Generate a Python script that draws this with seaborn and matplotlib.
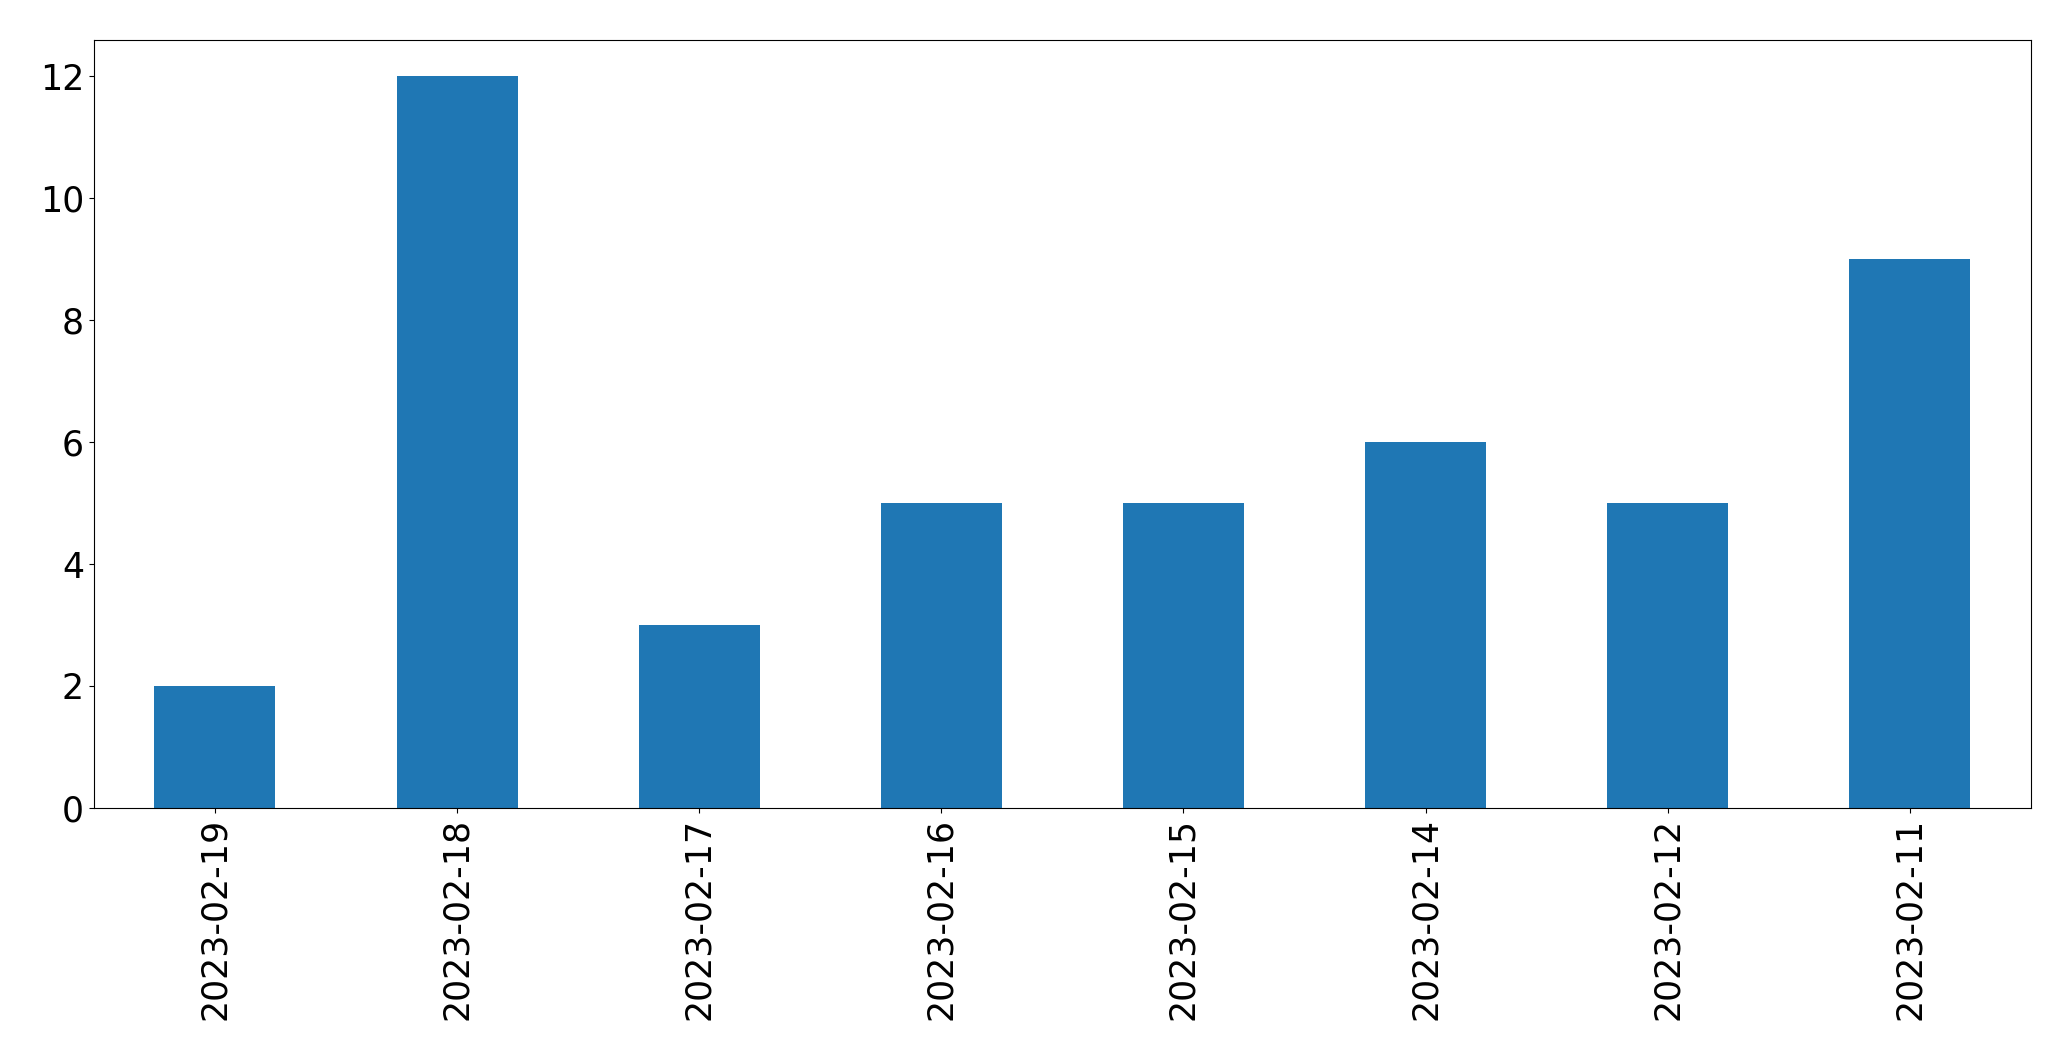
import matplotlib
matplotlib.use("Agg")
import matplotlib.pyplot as plt
import seaborn as sns
import pandas as pd

dates = ["2023-02-19", "2023-02-18", "2023-02-17", "2023-02-16",
         "2023-02-15", "2023-02-14", "2023-02-12", "2023-02-11"]
counts = [2, 12, 3, 5, 5, 6, 5, 9]

df = pd.DataFrame({"date": dates, "count": counts})

fig, ax = plt.subplots(figsize=(20.71, 10.61), dpi=100)
sns.barplot(data=df, x="date", y="count", color="#1f77b4", saturation=1,
            width=0.5, linewidth=0, ax=ax)

ax.set_xlabel("")
ax.set_ylabel("")
ax.set_xlim(-0.5, len(dates) - 0.5)
ax.set_ylim(0, 12.6)
ax.tick_params(axis="both", labelsize=25)
ax.tick_params(axis="x", labelrotation=90)

fig.subplots_adjust(left=0.0453, right=0.9807, top=0.9627, bottom=0.2385)
fig.savefig("out.png", dpi=100)
